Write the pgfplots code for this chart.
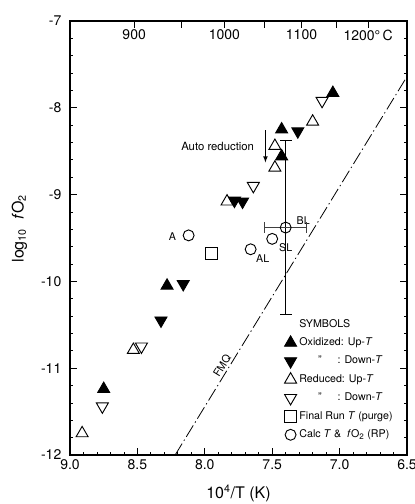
\documentclass[border=0pt]{standalone}
\usepackage{fontspec}
\setmainfont{TeX Gyre Heros}
\usepackage{pgfplots}
\pgfplotsset{compat=1.18}
\begin{document}
\begin{tikzpicture}
\begin{axis}[name=ax, scale only axis, width=252.75pt, height=325.5pt,
  x dir=reverse, xmin=6.5, xmax=9.0, ymin=-12, ymax=-7,
  xtick={6.5,7.0,7.5,8.0,8.5,9.0}, xticklabels={6.5,7.0,7.5,8.0,8.5,9.0},
  ytick={-12,-11,-10,-9,-8,-7}, yticklabels={-12,-11,-10,-9,-8,-7},
  minor x tick num=4, minor y tick num=4,
  xtick pos=lower, ytick pos=both, yticklabel pos=left,
  tick align=inside, major tick length=5pt, minor tick length=2.5pt,
  tick style={line width=0.6pt, black},
  axis line style={line width=0.8pt},
  ticklabel style={font=\fontsize{10.5}{12.5}\selectfont},
  yticklabel style={xshift=-3pt},
  clip=false,
  legend style={draw=none, fill=none, at={(axis cs:7.45,-10.40)}, anchor=north west,
    font=\fontsize{8}{9.6}\selectfont, cells={anchor=west}, row sep=1.8pt, inner sep=0pt,
    nodes={text height=6pt, text depth=2pt, inner sep=2pt}},
  every axis plot/.append style={line width=0.7pt},
]
\addlegendimage{empty legend}\addlegendentry{SYMBOLS}
% FMQ buffer line
\addplot[forget plot, line width=0.6pt, dash pattern=on 10pt off 2.5pt on 1pt off 2.5pt]
  coordinates {(8.22,-12) (6.5,-7.64)};
% error bars of BL (drawn before the markers)
\addplot[forget plot, black, line width=0.6pt, mark=-, mark size=4.5pt, mark options={solid}]
  coordinates {(7.40,-8.38) (7.40,-10.38)};
\addplot[forget plot, black!75, line width=0.6pt, mark=|, mark size=4pt, mark options={solid}]
  coordinates {(7.555,-9.38) (7.245,-9.38)};
% Oxidized Up-T
\addplot[only marks, mark=triangle*, mark size=5.2pt, mark options={fill=black, draw=black}]
  coordinates {(7.05,-7.83) (7.43,-8.25) (7.43,-8.56) (8.28,-10.05) (8.75,-11.24)};
\addlegendentry{Oxidized: Up-\textit{T}}
% Oxidized Down-T
\addplot[only marks, mark=triangle*, mark size=5.2pt, mark options={fill=black, draw=black, rotate=180}]
  coordinates {(7.31,-8.27) (7.78,-9.07) (7.72,-9.08) (8.16,-10.03) (8.325,-10.45)};
\addlegendentry{\hspace*{14pt}"\hspace*{12pt}: Down-\textit{T}}
% Reduced Up-T
\addplot[only marks, mark=triangle, mark size=5.2pt, mark options={fill=white, draw=black}]
  coordinates {(7.20,-8.16) (7.48,-8.44) (7.48,-8.69) (7.835,-9.08) (8.53,-10.79) (8.91,-11.75)};
\addlegendentry{Reduced: Up-\textit{T}}
% Reduced Down-T
\addplot[only marks, mark=triangle, mark size=5.2pt, mark options={fill=white, draw=black, rotate=180}]
  coordinates {(7.13,-7.92) (7.64,-8.90) (8.47,-10.75) (8.76,-11.44)};
\addlegendentry{\hspace*{14pt}"\hspace*{12pt}: Down-\textit{T}}
% Final run T (purge)
\addplot[only marks, mark=square, mark size=4.6pt, mark options={fill=white, draw=black}]
  coordinates {(7.95,-9.68)};
\addlegendentry{Final Run \textit{T} (purge)}
% Calc T & fO2
\addplot[only marks, mark=o, mark size=4.1pt, mark options={fill=white, draw=black}]
  coordinates {(8.12,-9.47) (7.66,-9.63) (7.50,-9.51) (7.40,-9.38)};
\addlegendentry{Calc \textit{T} \& \ \textit{f}O\textsubscript{2} (RP)}
% annotations
\node[font=\fontsize{8}{9.6}\selectfont] at (axis cs:8.24,-9.48) {A};
\node[font=\fontsize{8}{9.6}\selectfont] at (axis cs:7.57,-9.74) {AL};
\node[font=\fontsize{8}{9.6}\selectfont] at (axis cs:7.40,-9.61) {SL};
\node[font=\fontsize{8}{9.6}\selectfont] at (axis cs:7.27,-9.30) {BL};
\node[font=\fontsize{8.5}{10}\selectfont, anchor=east] at (axis cs:7.60,-8.44) {Auto reduction};
\draw[-latex, line width=0.6pt] (axis cs:7.55,-8.26) -- (axis cs:7.55,-8.63);
\node[font=\fontsize{8}{9.6}\selectfont, rotate=58.5, anchor=south, inner sep=1.5pt] at (axis cs:7.83,-11.01) {FMQ};
% top temperature labels
\node[anchor=north, font=\fontsize{10.5}{12.5}\selectfont] at ([yshift=-3pt]axis cs:8.5241,-7) {900};
\node[anchor=north, font=\fontsize{10.5}{12.5}\selectfont] at ([yshift=-3pt]axis cs:7.8545,-7) {1000};
\node[anchor=north, font=\fontsize{10.5}{12.5}\selectfont] at ([yshift=-3pt]axis cs:7.2825,-7) {1100};
\node[anchor=north, font=\fontsize{10.5}{12.5}\selectfont] at ([yshift=-3pt]axis cs:6.7882,-7) {1200°\,C};
\end{axis}
\begin{axis}[scale only axis, width=252.75pt, height=325.5pt,
  x dir=reverse, xmin=6.5, xmax=9.0, ymin=-12, ymax=-7,
  hide y axis, axis x line*=top,
  xtick={8.5241,8.1756,7.8545,7.5577,7.2825,7.0266,6.7882},
  xticklabel style={opacity=0, text opacity=0},
  tick align=inside, major tick length=5pt,
  tick style={line width=0.6pt, black},
  axis line style={line width=0.8pt},
]
\end{axis}
\node[rotate=90, font=\fontsize{12}{14}\selectfont] at ([xshift=-38pt, yshift=7pt]ax.west)
  {log\textsubscript{10}\ \ \textit{f}O\textsubscript{2}};
\node[font=\fontsize{12}{14}\selectfont] at ([yshift=-29pt]ax.south) {10\textsuperscript{4}/T\ (K)};
\pgfresetboundingbox
\useasboundingbox ([shift={(-52.5pt,-36.75pt)}]ax.south west) rectangle ([shift={(6pt,15.75pt)}]ax.north east);
\end{tikzpicture}
\end{document}
